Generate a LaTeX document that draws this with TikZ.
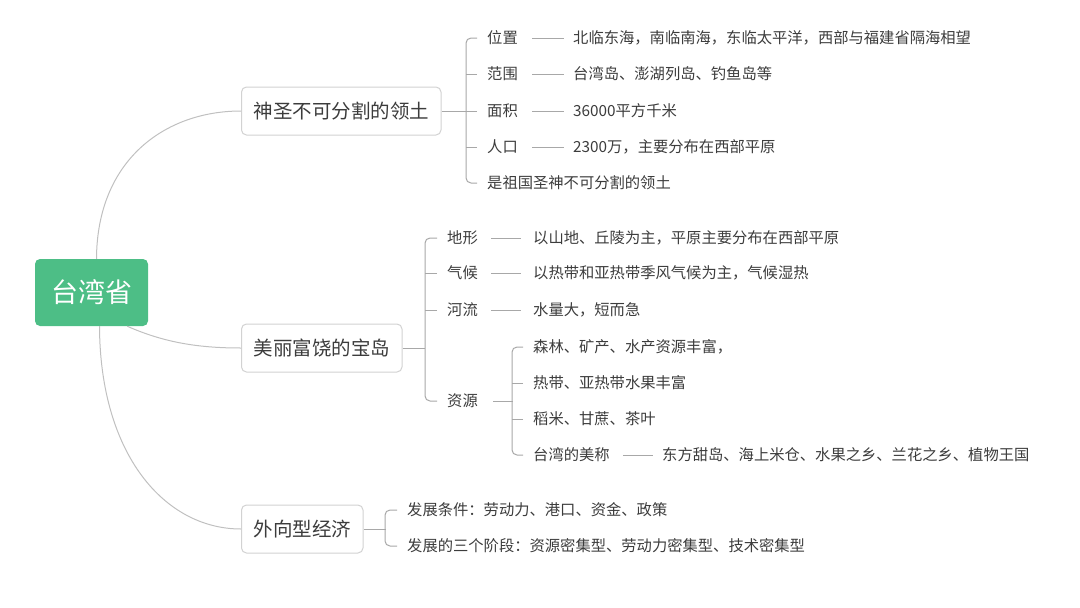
\documentclass[tikz,border=0pt]{standalone}
\usepackage{fontspec}
\setmainfont{Noto Sans CJK SC}
\usepackage{tikz}
\definecolor{rootgreen}{RGB}{77,190,134}
\definecolor{boxgray}{RGB}{210,210,210}
\definecolor{linegray}{RGB}{168,168,168}
\definecolor{curvegray}{RGB}{192,192,192}
\definecolor{textgray}{RGB}{60,60,60}

\begin{document}
\begin{tikzpicture}[x=1pt, y=-1pt,
	root/.style={fill=rootgreen, rounded corners=5pt, text=white, minimum width=113pt, minimum height=67pt, font=\fontsize{27}{27}\selectfont},
	topic/.style={draw=boxgray, fill=white, rounded corners=5pt, line width=1pt, text=textgray, inner xsep=12pt, minimum height=48pt, anchor=west, font=\fontsize{19.5}{19.5}\selectfont},
	leaf/.style={anchor=west, inner sep=0pt, text=textgray, font=\fontsize{15.3}{15.3}\selectfont},
	link/.style={draw=linegray, line width=1pt},
	bracket/.style={link, rounded corners=5pt},
	curve/.style={draw=curvegray, line width=1pt}]
	%Bildbereich
	\useasboundingbox (0,0) rectangle (1080,608);
	% Hauptknoten
	\node[root] (tw) at (91.5,292.5) {台湾省};
	\node[topic] (lt) at (241,111) {神圣不可分割的领土};
	\node[topic] (bd) at (241,348) {美丽富饶的宝岛};
	\node[topic] (jj) at (241,529) {外向型经济};
	% Kurven vom Hauptknoten
	\draw[curve] ([xshift=5pt]tw.north) .. controls (97,160) and (165,111) .. (lt.west);
	\draw[curve] ([xshift=-21pt]tw.south east) .. controls (165,343) and (200,348) .. (bd.west);
	\draw[curve] ([xshift=8pt]tw.south) .. controls (100,455) and (165,529) .. (jj.west);
	% Zweig 1
	\foreach \n/\l/\t/\y in {wz/位置/北临东海，南临南海，东临太平洋，西部与福建省隔海相望/38,
		fw/范围/台湾岛、澎湖列岛、钓鱼岛等/74, mj/面积/36000平方千米/111, rk/人口/2300万，主要分布在西部平原/147}
	{
		\node[leaf] (\n) at (487,\y) {\l};
		\node[leaf] (\n-t) at (573,\y) {\t};
		\draw[link, shorten <=14pt, shorten >=9pt] (\n.east) -- (\n-t.west);
	}
	\node[leaf] (zg) at (487,183) {是祖国圣神不可分割的领土};
	\draw[bracket] ([xshift=-10pt]wz.west) -- ++(-11,0) |- ([xshift=-10pt]zg.west);
	\foreach \n in {fw,mj,rk} \draw[link] ([xshift=-10pt]\n.west) -- ++(-11,0);
	\draw[link] (lt.east) -- ([xshift=-10pt]mj.west);
	% Zweig 2
	\foreach \n/\l/\t/\y in {dx/地形/以山地、丘陵为主，平原主要分布在西部平原/238,
		qh/气候/以热带和亚热带季风气候为主，气候湿热/273, hl/河流/水量大，短而急/310}
	{
		\node[leaf] (\n) at (447,\y) {\l};
		\node[leaf] (\n-t) at (533,\y) {\t};
		\draw[link, shorten <=13pt, shorten >=12pt] (\n.east) -- (\n-t.west);
	}
	\node[leaf] (zy) at (447,401) {资源};
	\draw[bracket] ([xshift=-10pt]dx.west) -- ++(-12,0) |- ([xshift=-10pt]zy.west);
	\foreach \n in {qh,hl} \draw[link] ([xshift=-10pt]\n.west) -- ++(-12,0);
	\draw[link] (bd.east) -- ++(22,0);
	% Ressourcen
	\node[leaf] (sl) at (533,347) {森林、矿产、水产资源丰富，};
	\node[leaf] (sg) at (533,383) {热带、亚热带水果丰富};
	\node[leaf] (dm) at (533,419) {稻米、甘蔗、茶叶};
	\node[leaf] (mc) at (533,455) {台湾的美称};
	\node[leaf] (mc-t) at (662,455) {东方甜岛、海上米仓、水果之乡、兰花之乡、植物王国};
	\draw[link, shorten <=13pt, shorten >=9pt] (mc.east) -- (mc-t.west);
	\draw[bracket] ([xshift=-10pt]sl.west) -- ++(-11,0) |- ([xshift=-10pt]mc.west);
	\foreach \n in {sg,dm} \draw[link] ([xshift=-10pt]\n.west) -- ++(-11,0);
	\draw[link] ([xshift=15pt]zy.east) -- ++(20,0);
	% Zweig 3
	\node[leaf] (tj) at (407,510) {发展条件：劳动力、港口、资金、政策};
	\node[leaf] (jd) at (407,546) {发展的三个阶段：资源密集型、劳动力密集型、技术密集型};
	\draw[bracket] ([xshift=-10pt]tj.west) -- ++(-12,0) |- ([xshift=-10pt]jd.west);
	\draw[link] (jj.east) -- ++(22,0);
\end{tikzpicture}
\end{document}
